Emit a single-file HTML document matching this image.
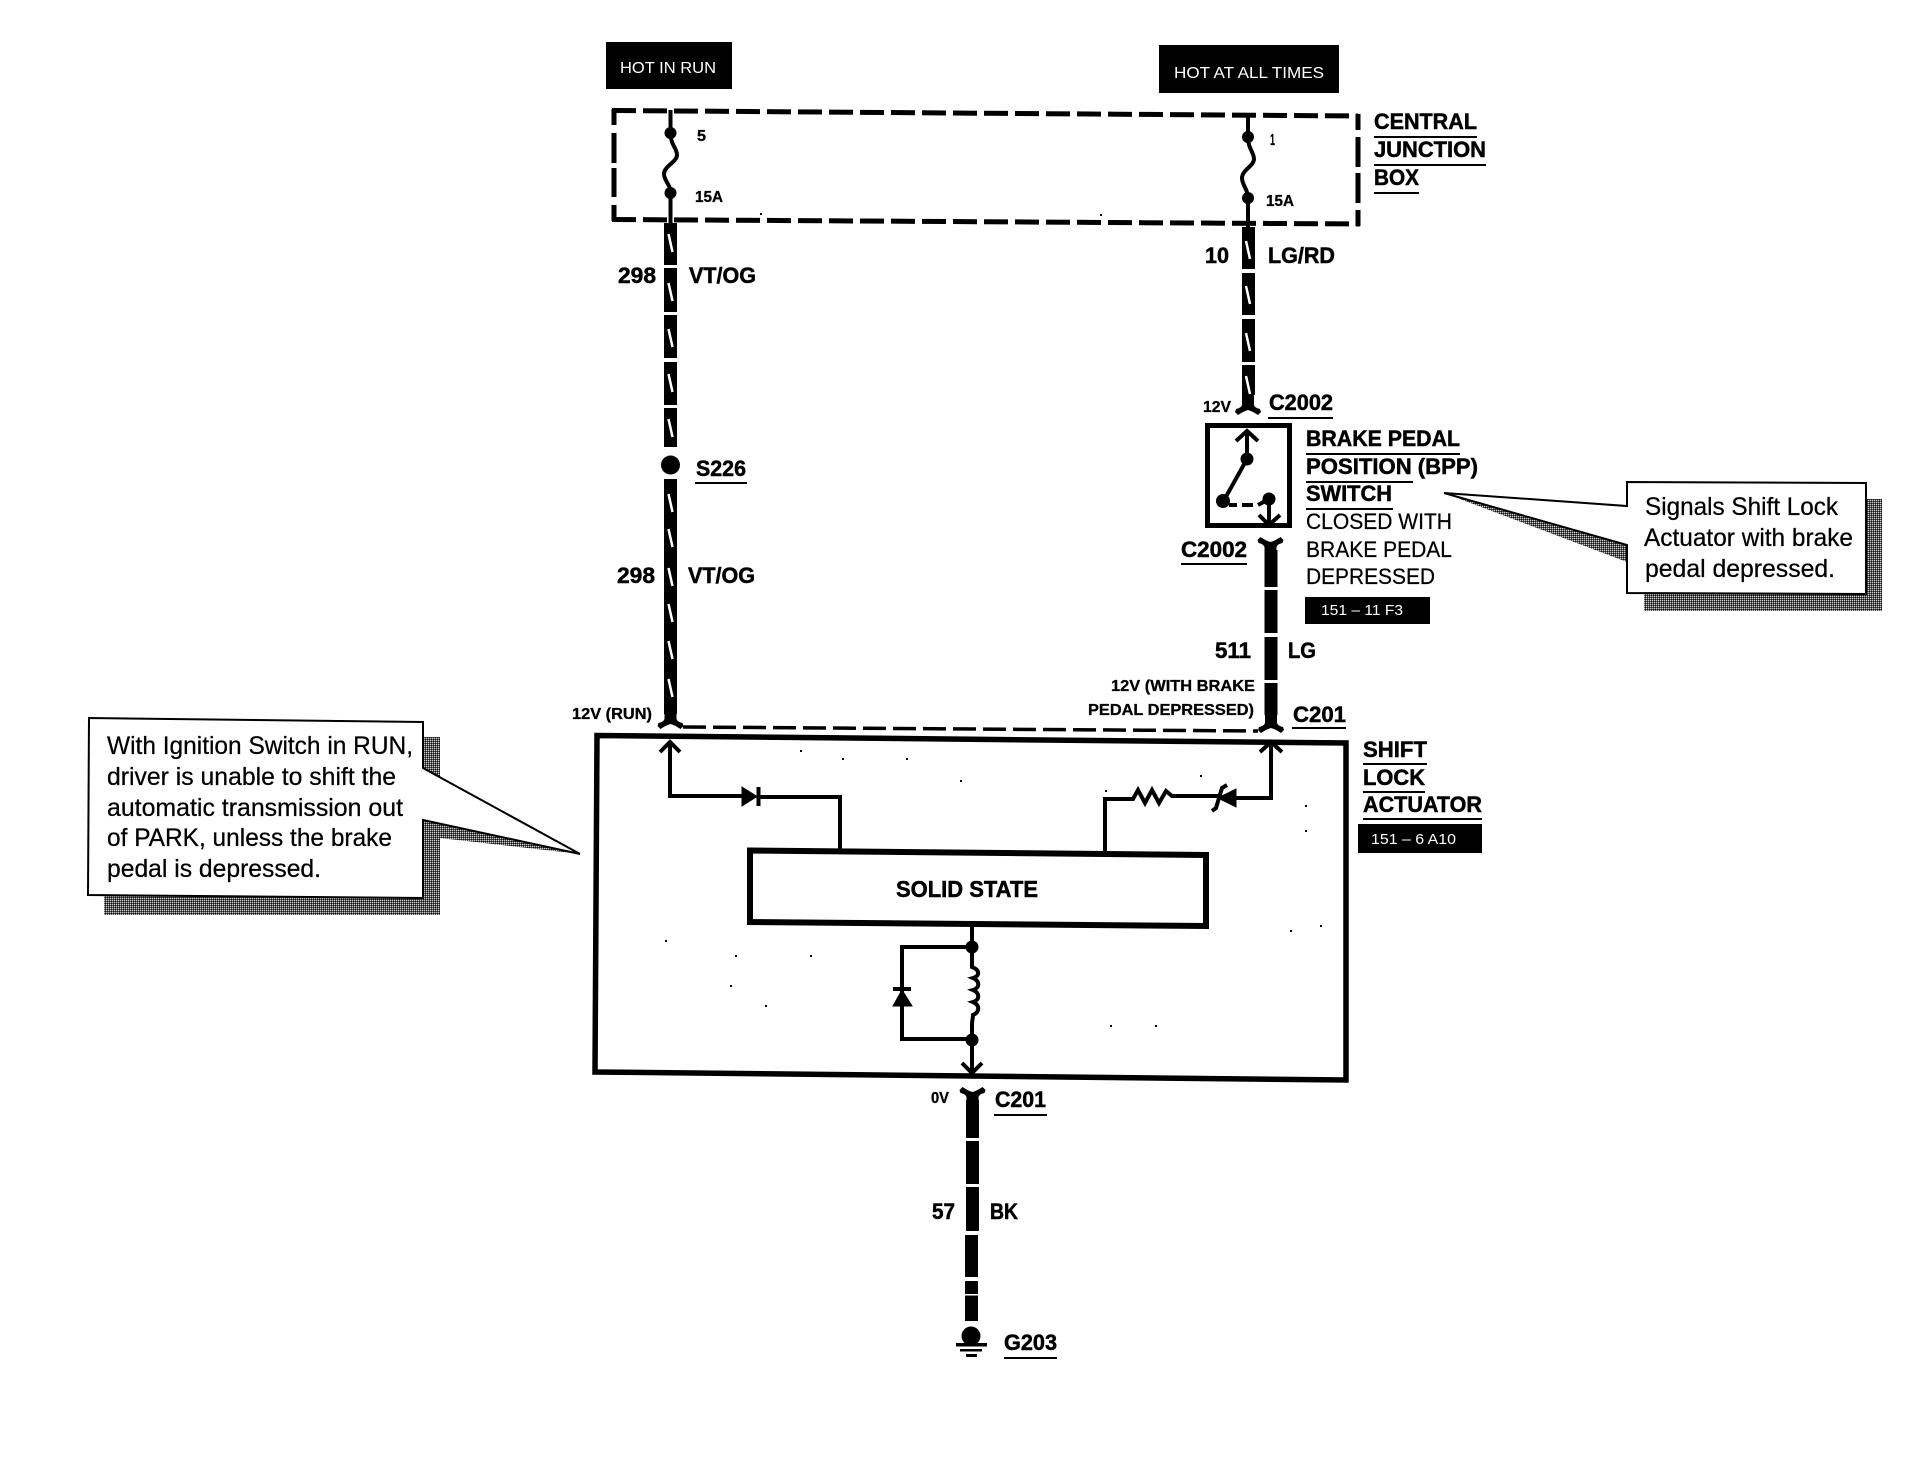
<!DOCTYPE html>
<html>
<head>
<meta charset="utf-8">
<style>
html,body{margin:0;padding:0;background:#fff;}
svg{display:block;}
text{font-family:"Liberation Sans",sans-serif;fill:#000;}
.b{font-weight:bold;font-size:22px;stroke:#000;stroke-width:.5;}
.s{font-weight:bold;font-size:16px;stroke:#000;stroke-width:.3;}
.r{font-size:22px;stroke:#000;stroke-width:.25;}
.c{font-size:25px;stroke:#000;stroke-width:.25;}
.w{fill:#fff;font-size:16px;}
.t{fill:none;stroke:#000;stroke-width:4;}
</style>
</head>
<body>
<svg width="1930" height="1472" viewBox="0 0 1930 1472" xmlns="http://www.w3.org/2000/svg">
<defs>
<pattern id="dither" width="2" height="2" patternUnits="userSpaceOnUse">
<rect width="2" height="2" fill="#555"/><rect width="1" height="1" fill="#ccc"/><rect x="1" y="1" width="1" height="1" fill="#111"/>
</pattern>
<path id="fork" d="M-6 -20H6V-10Q7 -7 12 -6L13 -3L10 0Q4 -4 0 -5Q-4 -4 -10 0L-13 -3L-12 -6Q-7 -7 -6 -10Z" fill="#000"/>
<path id="sl" d="M-2 -9L2 9" stroke="#fff" stroke-width="2.500" fill="none"/>
</defs>
<rect width="1930" height="1472" fill="#fff"/>

<!-- source tags -->
<rect x="606" y="42" width="126" height="47" fill="#000"/>
<text class="w" x="620" y="73" textLength="96" lengthAdjust="spacingAndGlyphs">HOT IN RUN</text>
<rect x="1159" y="45" width="180" height="48" fill="#000"/>
<text class="w" x="1174" y="78" textLength="150" lengthAdjust="spacingAndGlyphs">HOT AT ALL TIMES</text>

<!-- central junction box -->
<path d="M612 110.500L1358 116" fill="none" stroke="#000" stroke-width="5" stroke-dasharray="24 7"/>
<path d="M612 219.500L1360 224" fill="none" stroke="#000" stroke-width="5" stroke-dasharray="24 7"/>
<path d="M614 109V125M614 133V163M614 168V197M614 205V221" fill="none" stroke="#000" stroke-width="5"/>
<path d="M1358 114V130M1358 137V167M1358 173V203M1358 210V226" fill="none" stroke="#000" stroke-width="5"/>
<path d="M670.500 110V133C670.500 145 677 148 677 155C677 162 664 166 664 174C664 181 670.500 184 670.500 193V224" class="t"/>
<circle cx="670.500" cy="133" r="6"/><circle cx="670.500" cy="193" r="6"/>
<path d="M1248 113V137C1248 149 1254 152 1254 159C1254 166 1242 170 1242 178C1242 185 1248 189 1248 198V228" class="t"/>
<circle cx="1248" cy="137" r="6"/><circle cx="1248" cy="198" r="6"/>
<text class="s" x="697" y="141" textLength="9" lengthAdjust="spacingAndGlyphs">5</text>
<text class="s" x="695" y="202" textLength="28" lengthAdjust="spacingAndGlyphs">15A</text>
<text class="s" x="1270" y="145" textLength="5" lengthAdjust="spacingAndGlyphs">1</text>
<text class="s" x="1266" y="206" textLength="28" lengthAdjust="spacingAndGlyphs">15A</text>

<text class="b" x="1374" y="129" textLength="103" lengthAdjust="spacingAndGlyphs">CENTRAL</text>
<rect x="1374" y="136" width="103" height="2"/>
<text class="b" x="1374" y="157" textLength="112" lengthAdjust="spacingAndGlyphs">JUNCTION</text>
<rect x="1374" y="164" width="112" height="2"/>
<text class="b" x="1374" y="185" textLength="45" lengthAdjust="spacingAndGlyphs">BOX</text>
<rect x="1374" y="192" width="45" height="2"/>

<!-- left wire -->
<rect x="664" y="223" width="13" height="42"/>
<rect x="664" y="268" width="13" height="44"/>
<rect x="664" y="315" width="13" height="43"/>
<rect x="664" y="362" width="13" height="43"/>
<rect x="664" y="408" width="13" height="39"/>
<circle cx="670.500" cy="465" r="9.500"/>
<rect x="664" y="479" width="13" height="235"/>
<use href="#fork" x="670.500" y="729"/>
<use href="#sl" x="670.500" y="243"/><use href="#sl" x="670.500" y="292"/><use href="#sl" x="670.500" y="338"/><use href="#sl" x="670.500" y="383"/><use href="#sl" x="670.500" y="428"/>
<use href="#sl" x="670.500" y="503"/><use href="#sl" x="670.500" y="538"/><use href="#sl" x="670.500" y="577"/><use href="#sl" x="670.500" y="613"/><use href="#sl" x="670.500" y="650"/><use href="#sl" x="670.500" y="688"/>
<text class="b" x="618" y="283" textLength="38" lengthAdjust="spacingAndGlyphs">298</text>
<text class="b" x="689" y="283" textLength="67" lengthAdjust="spacingAndGlyphs">VT/OG</text>
<text class="b" x="696" y="476" textLength="50" lengthAdjust="spacingAndGlyphs">S226</text>
<rect x="695" y="482" width="52" height="2"/>
<text class="b" x="617" y="583" textLength="38" lengthAdjust="spacingAndGlyphs">298</text>
<text class="b" x="688" y="583" textLength="67" lengthAdjust="spacingAndGlyphs">VT/OG</text>
<text class="s" x="572" y="719" textLength="80" lengthAdjust="spacingAndGlyphs">12V (RUN)</text>

<!-- right upper wire -->
<rect x="1242" y="227" width="13" height="42"/>
<rect x="1242" y="273" width="13" height="42"/>
<rect x="1242" y="319" width="13" height="43"/>
<rect x="1242" y="365" width="13" height="30"/>
<use href="#fork" x="1248" y="415"/>
<use href="#sl" x="1248" y="250"/><use href="#sl" x="1248" y="295"/><use href="#sl" x="1248" y="342"/><use href="#sl" x="1248" y="385"/>
<text class="b" x="1205" y="263" textLength="24" lengthAdjust="spacingAndGlyphs">10</text>
<text class="b" x="1268" y="263" textLength="67" lengthAdjust="spacingAndGlyphs">LG/RD</text>
<text class="s" x="1203" y="412" textLength="28" lengthAdjust="spacingAndGlyphs">12V</text>
<text class="b" x="1269" y="410" textLength="64" lengthAdjust="spacingAndGlyphs">C2002</text>
<rect x="1268" y="417" width="65" height="2"/>

<!-- BPP switch -->
<rect x="1207.500" y="425.500" width="82" height="100" fill="#fff" stroke="#000" stroke-width="5"/>
<path d="M1247 431V459L1223 502" class="t"/>
<path d="M1236 441L1247 431L1258 441" class="t"/>
<circle cx="1247" cy="459" r="6.500"/><circle cx="1223" cy="501" r="7"/>
<path d="M1229 505H1237M1242 505H1253M1258 505L1269 499" class="t"/>
<circle cx="1269" cy="499" r="6.500"/>
<path d="M1269 499V525" class="t"/>
<path d="M1259 515L1269 525L1280 515" class="t"/>
<use href="#fork" transform="translate(1270.500 537) scale(1 -1)"/>
<rect x="1264.500" y="550" width="13" height="37"/>
<rect x="1264.500" y="590" width="13" height="43"/>
<rect x="1264.500" y="637" width="13" height="43"/>
<rect x="1264.500" y="683" width="13" height="32"/>
<use href="#fork" x="1271" y="733"/>
<text class="b" x="1181" y="557" textLength="66" lengthAdjust="spacingAndGlyphs">C2002</text>
<rect x="1181" y="563" width="66" height="2"/>
<text class="b" x="1306" y="446" textLength="154" lengthAdjust="spacingAndGlyphs">BRAKE PEDAL</text>
<rect x="1306" y="453" width="154" height="2"/>
<text class="b" x="1306" y="474" textLength="172" lengthAdjust="spacingAndGlyphs">POSITION (BPP)</text>
<rect x="1306" y="481" width="107" height="2"/>
<text class="b" x="1306" y="501" textLength="86" lengthAdjust="spacingAndGlyphs">SWITCH</text>
<rect x="1306" y="508" width="87" height="2"/>
<text class="r" x="1306" y="529" textLength="146" lengthAdjust="spacingAndGlyphs">CLOSED WITH</text>
<text class="r" x="1306" y="557" textLength="146" lengthAdjust="spacingAndGlyphs">BRAKE PEDAL</text>
<text class="r" x="1306" y="584" textLength="129" lengthAdjust="spacingAndGlyphs">DEPRESSED</text>
<rect x="1305" y="597" width="125" height="27"/>
<text class="w" x="1321" y="615" textLength="82" lengthAdjust="spacingAndGlyphs" style="font-size:15px">151 – 11 F3</text>
<text class="b" x="1215" y="658" textLength="36" lengthAdjust="spacingAndGlyphs">511</text>
<text class="b" x="1288" y="658" textLength="28" lengthAdjust="spacingAndGlyphs">LG</text>
<text class="s" x="1111" y="691" textLength="144" lengthAdjust="spacingAndGlyphs">12V (WITH BRAKE</text>
<text class="s" x="1088" y="715" textLength="166" lengthAdjust="spacingAndGlyphs">PEDAL DEPRESSED)</text>
<text class="b" x="1293" y="722" textLength="53" lengthAdjust="spacingAndGlyphs">C201</text>
<rect x="1292" y="727" width="54" height="2"/>

<!-- dashed link -->
<path d="M683 727L1258 731" fill="none" stroke="#000" stroke-width="3.500" stroke-dasharray="23 7"/>

<!-- Shift lock actuator -->
<path d="M597 735.500L1346 743V1080L595 1072Z" fill="#fff" stroke="#000" stroke-width="5.500"/>
<path d="M670 742V796H742M759 797H840V849" class="t"/>
<path d="M660 752L670 742L680 752" class="t"/>
<path d="M742 787V806L757 796.500Z" stroke="#000" stroke-width="1"/>
<path d="M758.500 787V806" class="t"/>
<path d="M1105 854V799H1128L1133 799L1138 790L1145 803L1152 790L1159 803L1166 791L1172 796H1218M1236 798H1271V742" class="t"/>
<path d="M1260 752L1271 742L1282 752" class="t"/>
<path d="M1218 798L1236 789V807Z" stroke="#000" stroke-width="1"/>
<path d="M1227 785L1222 788L1216 808L1212 811" class="t"/>
<path d="M750 850.500L1206 855V926L750 922Z" fill="#fff" stroke="#000" stroke-width="6"/>
<text class="b" x="896" y="897" textLength="142" lengthAdjust="spacingAndGlyphs" style="font-size:23px">SOLID STATE</text>
<path d="M972 927V967C980 970 980 976 973 978C980 981 980 988 973 990C980 993 980 1000 973 1002C980 1005 980 1012 973 1015C973 1018 972 1020 972 1025V1073" class="t"/>
<path d="M962 1063L972 1073L982 1063" class="t"/>
<path d="M972 947H902V1039H972" class="t"/>
<circle cx="972" cy="947" r="6.500"/><circle cx="972" cy="1040" r="6.500"/>
<path d="M902 990L893 1006H912Z" stroke="#000" stroke-width="1"/>
<path d="M893 989H911" class="t"/>

<!-- specks -->
<g fill="#000">
<rect x="800" y="750" width="2" height="2"/><rect x="842" y="758" width="2" height="2"/><rect x="906" y="758" width="2" height="2"/><rect x="960" y="780" width="2" height="2"/>
<rect x="1105" y="790" width="2" height="2"/><rect x="1200" y="775" width="2" height="2"/><rect x="1305" y="830" width="2" height="2"/><rect x="1305" y="805" width="2" height="2"/>
<rect x="665" y="940" width="2" height="2"/><rect x="730" y="985" width="2" height="2"/><rect x="735" y="955" width="2" height="2"/><rect x="765" y="1005" width="2" height="2"/><rect x="810" y="955" width="2" height="2"/>
<rect x="1110" y="1025" width="2" height="2"/><rect x="1155" y="1025" width="2" height="2"/><rect x="1290" y="930" width="2" height="2"/><rect x="1320" y="925" width="2" height="2"/>
<rect x="760" y="213" width="2" height="2"/><rect x="1100" y="214" width="2" height="2"/>
</g>

<text class="b" x="1363" y="757" textLength="64" lengthAdjust="spacingAndGlyphs">SHIFT</text>
<rect x="1363" y="763" width="64" height="2"/>
<text class="b" x="1363" y="785" textLength="62" lengthAdjust="spacingAndGlyphs">LOCK</text>
<rect x="1363" y="791" width="62" height="2"/>
<text class="b" x="1363" y="812" textLength="119" lengthAdjust="spacingAndGlyphs">ACTUATOR</text>
<rect x="1363" y="818" width="119" height="2"/>
<rect x="1358" y="824" width="124" height="29"/>
<text class="w" x="1371" y="844" textLength="85" lengthAdjust="spacingAndGlyphs" style="font-size:15px">151 – 6 A10</text>

<!-- lower wire -->
<use href="#fork" transform="translate(972.500 1087) scale(1 -1)"/>
<rect x="966" y="1100" width="13" height="38"/>
<rect x="966" y="1141" width="13" height="43"/>
<rect x="966" y="1187" width="13" height="44"/>
<rect x="965" y="1235" width="13" height="42"/>
<rect x="965" y="1281" width="13" height="13"/>
<rect x="965" y="1295.500" width="13" height="25.500"/>
<circle cx="971" cy="1336" r="9.500"/>
<rect x="956" y="1343" width="31" height="3.500"/>
<rect x="960" y="1349" width="22" height="2.500"/>
<rect x="966" y="1354" width="11" height="3"/>
<text class="s" x="931" y="1103" textLength="18" lengthAdjust="spacingAndGlyphs">0V</text>
<text class="b" x="995" y="1107" textLength="51" lengthAdjust="spacingAndGlyphs">C201</text>
<rect x="994" y="1114" width="53" height="2"/>
<text class="b" x="932" y="1219" textLength="23" lengthAdjust="spacingAndGlyphs">57</text>
<text class="b" x="990" y="1219" textLength="28" lengthAdjust="spacingAndGlyphs">BK</text>
<text class="b" x="1004" y="1350" textLength="53" lengthAdjust="spacingAndGlyphs">G203</text>
<rect x="1004" y="1357" width="53" height="2"/>

<!-- left callout -->
<path d="M440 737H400V895H104V915H440V838L580 854L423 820V768L440 780Z" fill="url(#dither)"/>
<path d="M89 718L423 722V768L580 854L423 820V898L88 895Z" fill="#fff" stroke="#000" stroke-width="2"/>
<text class="c" x="107" y="754" textLength="306" lengthAdjust="spacingAndGlyphs">With Ignition Switch in RUN,</text>
<text class="c" x="107" y="785" textLength="289" lengthAdjust="spacingAndGlyphs">driver is unable to shift the</text>
<text class="c" x="107" y="816" textLength="296" lengthAdjust="spacingAndGlyphs">automatic transmission out</text>
<text class="c" x="107" y="846" textLength="285" lengthAdjust="spacingAndGlyphs">of PARK, unless the brake</text>
<text class="c" x="107" y="877" textLength="214" lengthAdjust="spacingAndGlyphs">pedal is depressed.</text>

<!-- right callout -->
<path d="M1444 493L1640 535V562L1627 562Z" fill="url(#dither)"/>
<path d="M1644 560H1840V499H1882V611H1644Z" fill="url(#dither)"/>
<path d="M1627 482L1866 483V594L1627 593V545L1444 493L1627 506Z" fill="#fff" stroke="#000" stroke-width="2"/>
<text class="c" x="1645" y="515" textLength="193" lengthAdjust="spacingAndGlyphs">Signals Shift Lock</text>
<text class="c" x="1644" y="546" textLength="209" lengthAdjust="spacingAndGlyphs">Actuator with brake</text>
<text class="c" x="1645" y="577" textLength="190" lengthAdjust="spacingAndGlyphs">pedal depressed.</text>
</svg>
</body>
</html>
